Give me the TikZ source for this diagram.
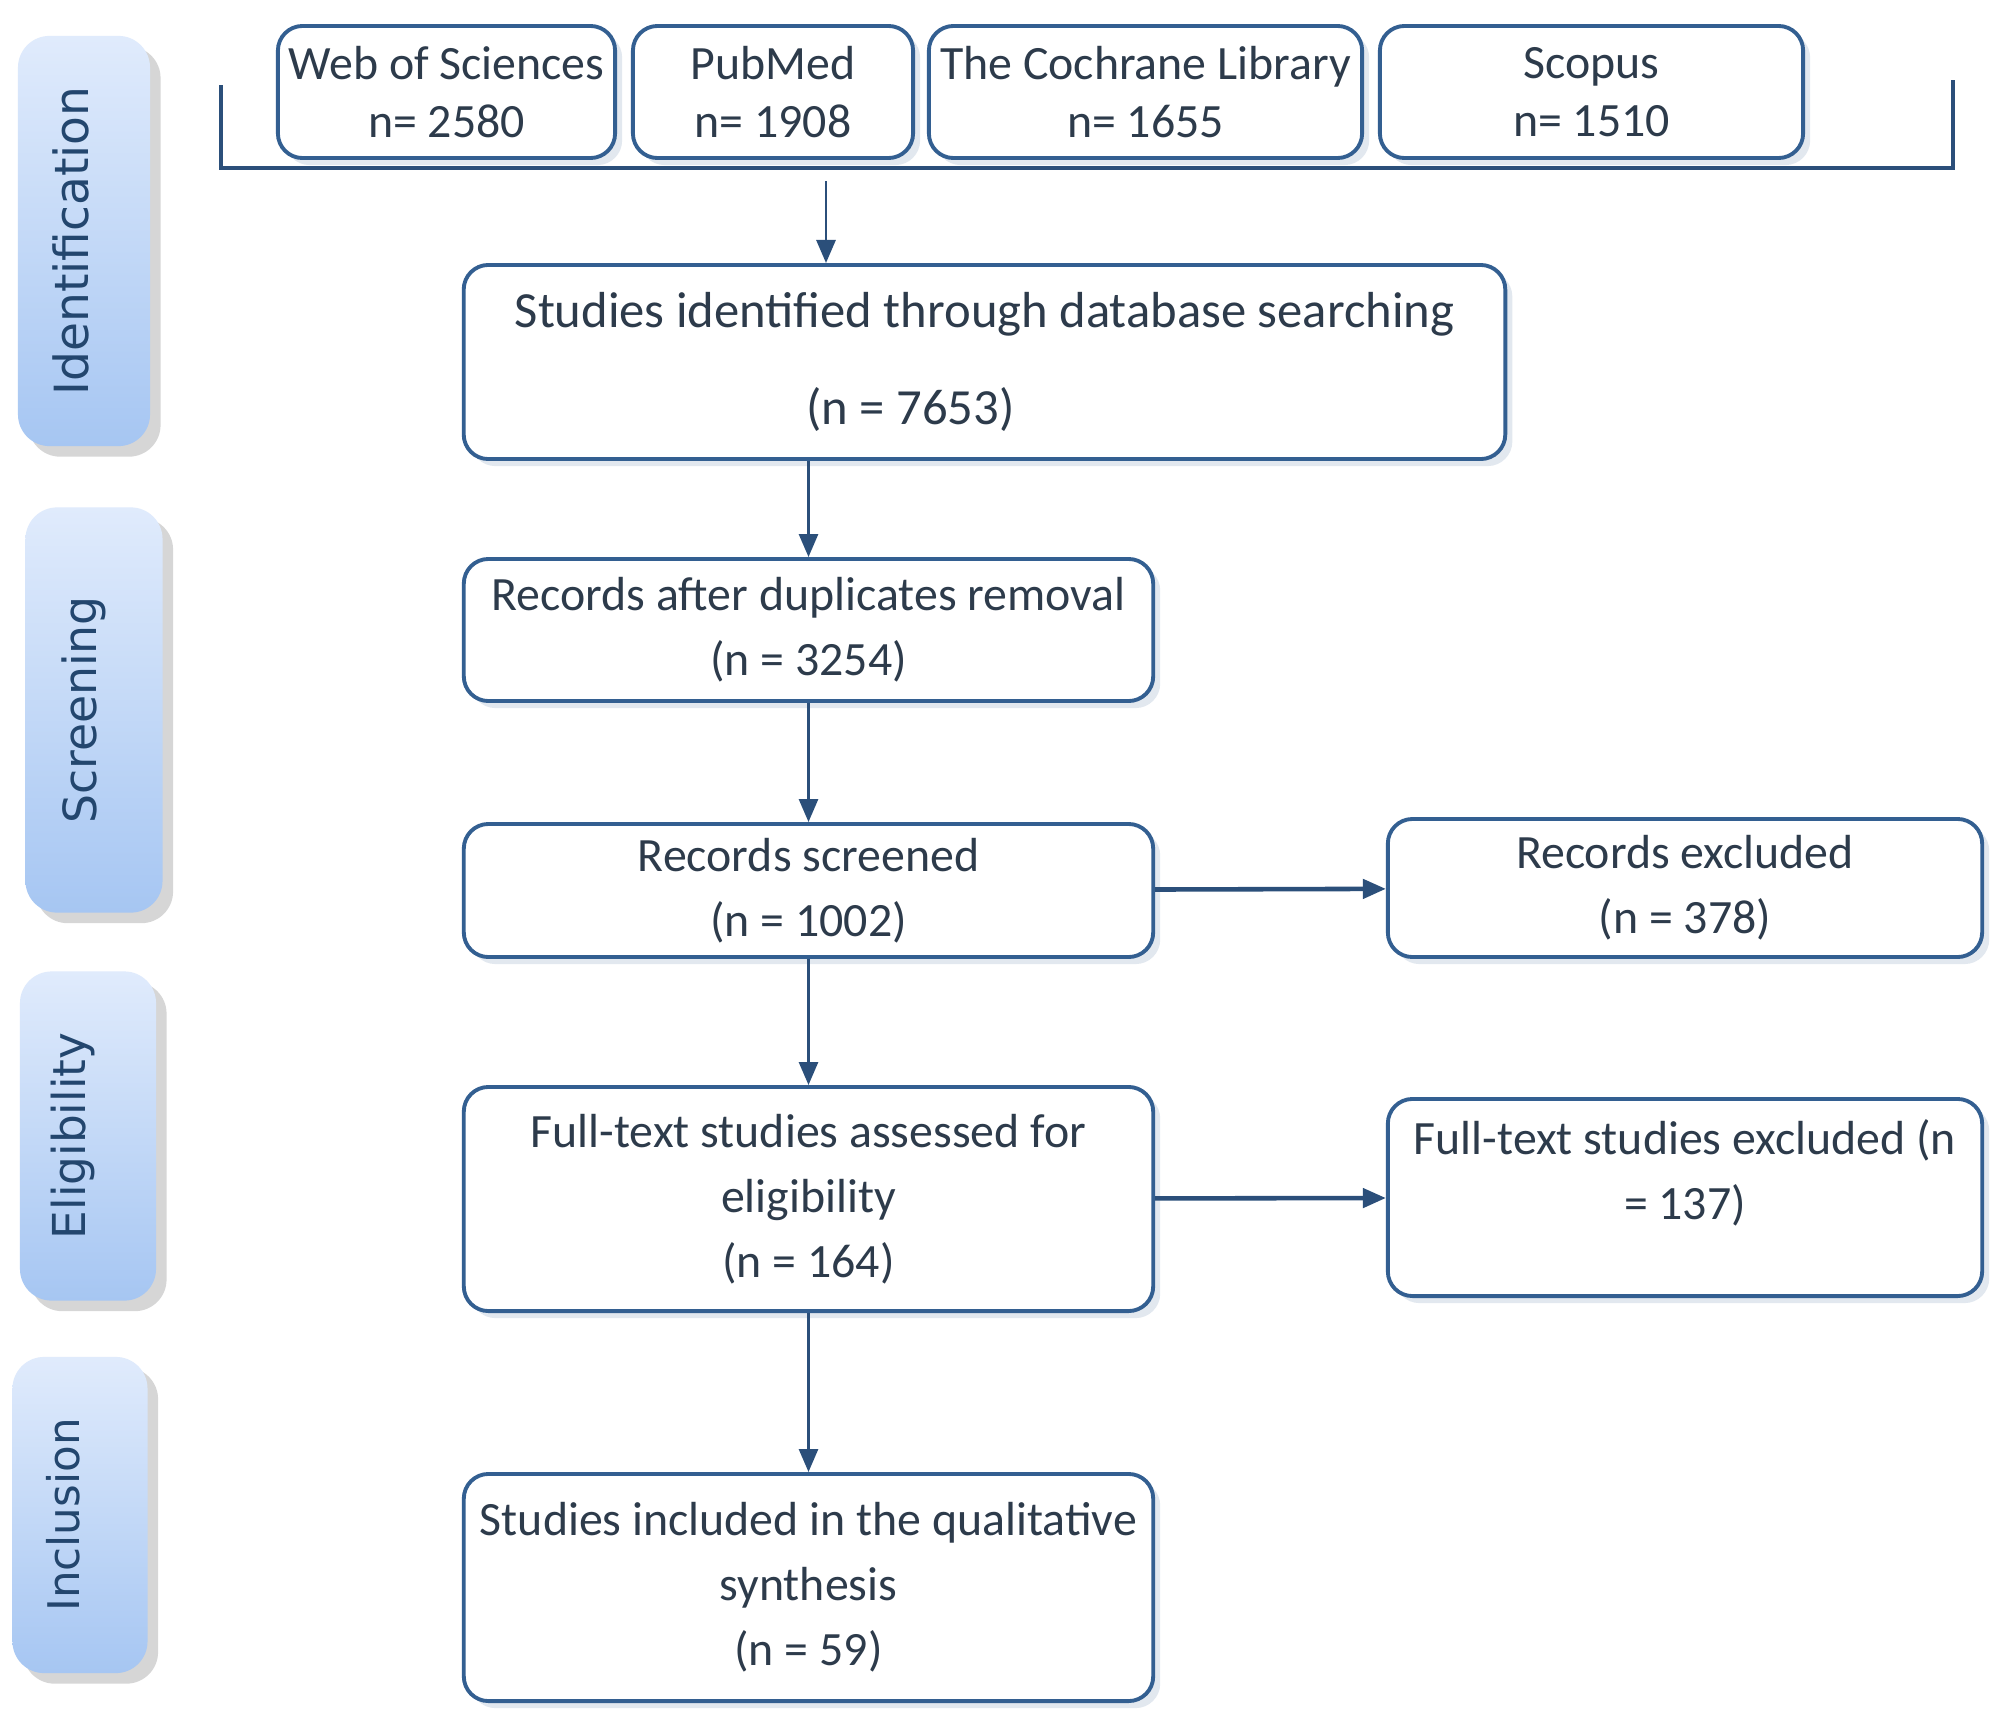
\documentclass[tikz,border=0pt]{standalone}
\usepackage{fontspec}
\setmainfont{Carlito}
\newfontfamily\tabfont{DejaVu Sans}
\usepackage{graphicx}
\usetikzlibrary{arrows.meta,shadows}
\definecolor{boxline} {HTML}{335F91}
\definecolor{arrowc}  {HTML}{2B4F7A}
\definecolor{textc}   {HTML}{2D3B4B}
\definecolor{tabtop}  {HTML}{E0EBFC}
\definecolor{tabbot}  {HTML}{A6C6F2}
\definecolor{tabtext} {HTML}{23466E}
\tikzset{
  src/.style   ={draw=boxline, line width=1.1pt, fill=white,
                 rounded corners=7pt, align=center, inner sep=2pt,
                 font=\fontsize{13.6}{16.5}\selectfont, text=textc,
                 drop shadow={shadow xshift=2pt, shadow yshift=-2pt,
                              fill=boxline!40, opacity=0.35}},
  box/.style   ={src, font=\fontsize{13.6}{18.5}\selectfont},
  phase/.style ={draw=none, rounded corners=9pt, top color=tabtop,
                 bottom color=tabbot, inner sep=0pt, text=tabtext,
                 drop shadow={shadow xshift=3pt, shadow yshift=-3pt,
                              fill=black!45, opacity=0.35}},
  ar/.style    ={-{Triangle[length=2.3mm,width=1.9mm]}, draw=arrowc,
                 line width=0.8pt},
  arh/.style   ={ar, line width=1.3pt},
  brkt/.style  ={draw=arrowc, line width=1pt}
}

\begin{document}
\begin{tikzpicture}[x=0.01cm, y=-0.01cm]
\path[use as bounding box, fill=white] (0,0) rectangle (2000,1715);

% phase tabs on the left
\node[phase, minimum width=1.32cm, minimum height=4.10cm] (tid) at (84,241)
  {\tabfont\fontsize{13.4}{16}\selectfont\rotatebox{90}{Identification}\hspace*{2.6mm}};
\node[phase, minimum width=1.37cm, minimum height=4.05cm] (tsc) at (94,710)
  {\tabfont\fontsize{13}{16}\selectfont\rotatebox{90}{Screening}\hspace*{2mm}};
\node[phase, minimum width=1.36cm, minimum height=3.29cm] (tel) at (88,1136)
  {\tabfont\fontsize{12.9}{15}\selectfont\rotatebox{90}{Eligibility}\hspace*{3mm}};
\node[phase, minimum width=1.35cm, minimum height=3.16cm] (tin) at (80,1515)
  {\tabfont\fontsize{12.4}{15}\selectfont\rotatebox{90}{Inclusion}\hspace*{3.4mm}};

% databases
\draw[brkt] (221,85) -- (221,168) -- (1953,168) -- (1953,80);
\node[src, minimum width=3.37cm, minimum height=1.32cm] (wos) at (446.5,92)
  {Web of Sciences\\ n= 2580};
\node[src, minimum width=2.80cm, minimum height=1.32cm] (pub) at (773,92)
  {PubMed\\ n= 1908};
\node[src, minimum width=4.33cm, minimum height=1.32cm] (coch) at (1145.5,92)
  {The Cochrane Library\\ n= 1655};
\node[src, minimum width=4.23cm, minimum height=1.32cm] (scop) at (1591.5,92)
  {Scopus\\ n= 1510};
\coordinate (brk) at (826,168);

% flow
\node[box, minimum width=10.41cm, minimum height=1.94cm] (ident) at (984.5,362)
  {\fontsize{14.4}{18.5}\selectfont Studies identified through database searching\\[3.2mm]
   \fontsize{14.4}{18.5}\selectfont(n = 7653)\hspace*{1.48cm}};
\node[box, minimum width=6.89cm, minimum height=1.42cm] (dup) at (808.5,630)
  {Records after duplicates removal\\ (n = 3254)};
\node[box, minimum width=6.89cm, minimum height=1.33cm] (scr) at (808.5,890.5)
  {Records screened\\ (n = 1002)};
\node[box, minimum width=5.94cm, minimum height=1.38cm] (excl) at (1685,888)
  {Records excluded\\ (n = 378)};
\node[box, minimum width=6.89cm, minimum height=2.24cm] (full) at (808.5,1199)
  {Full-text studies assessed for\\ eligibility\\ (n = 164)};
\node[box, minimum width=5.94cm, minimum height=1.97cm] (fexcl) at (1685,1197.5)
  {Full-text studies excluded (n\\ = 137)\\[-0.9mm]\mbox{}};
\node[box, minimum width=6.89cm, minimum height=2.27cm] (incl) at (808.5,1587.5)
  {Studies included in the qualitative\\ synthesis\\ (n = 59)};

\draw[ar]  (brk) ++(0,13) -- (brk |- ident.north);
\draw[ar]  (dup.north |- ident.south) -- (dup);
\draw[ar]  (dup)   -- (scr);
\draw[arh] (scr)   -- (excl);
\draw[ar]  (scr)   -- (full);
\draw[arh] (full)  -- (fexcl);
\draw[ar]  (full)  -- (incl);
\end{tikzpicture}
\end{document}
